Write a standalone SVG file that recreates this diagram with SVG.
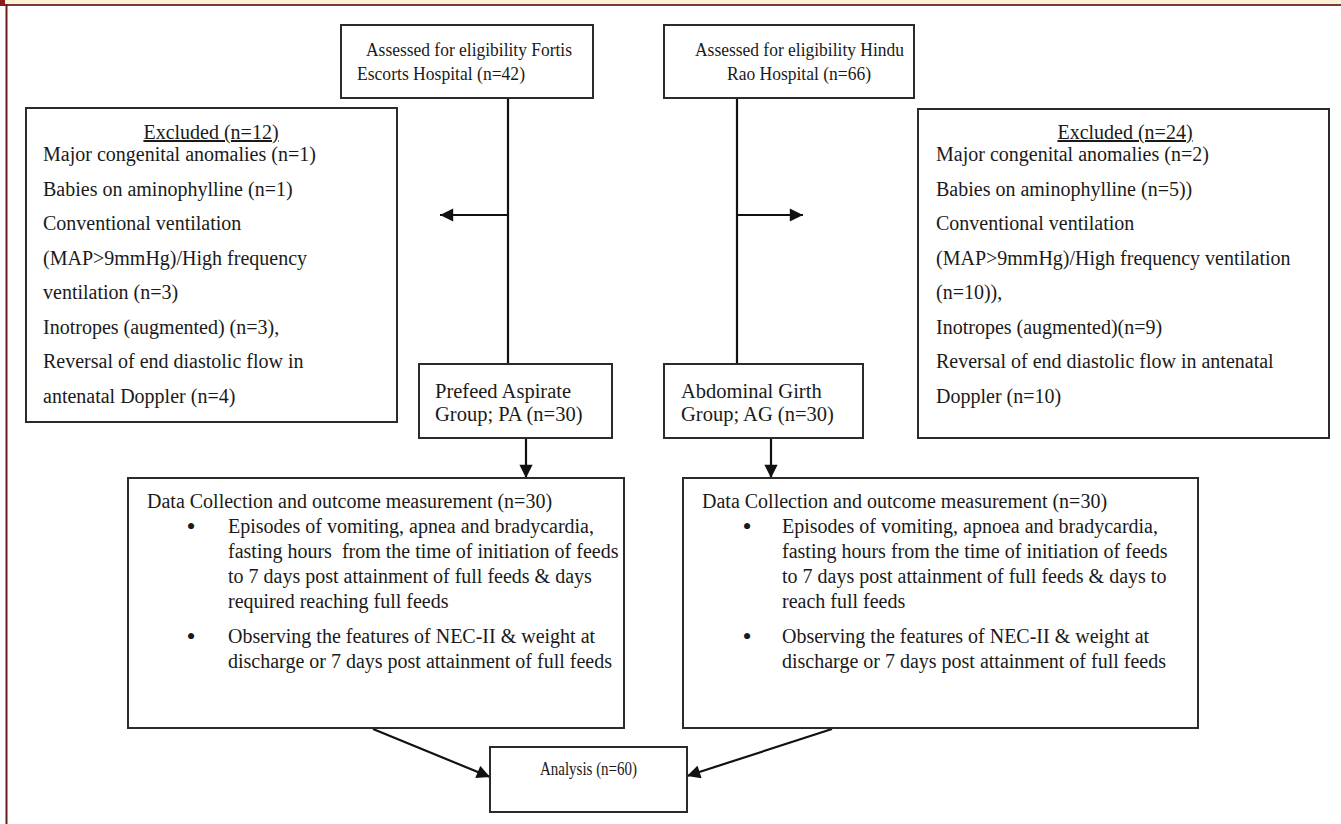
<svg xmlns="http://www.w3.org/2000/svg" width="1341" height="824" viewBox="0 0 1341 824">
<defs>
<style>
.box{fill:#fff;stroke:#2b2b2b;stroke-width:2}
.t{font-family:"Liberation Serif","Times New Roman",serif;fill:#1a1a1a;white-space:pre}
.s19{font-size:19.5px}
.s20{font-size:20px}
.s21{font-size:20.5px}
.b{font-size:26px}
.ln{stroke:#111;stroke-width:2.2;fill:none}
</style>
<marker id="ah" viewBox="0 0 10 10" refX="10" refY="5" markerWidth="6.5" markerHeight="6" markerUnits="strokeWidth" orient="auto">
<path d="M0,0 L10,5 L0,10 z" fill="#111"/>
</marker>
</defs>
<rect x="0" y="0" width="1341" height="824" fill="#fff"/>
<rect x="0" y="0" width="1341" height="4" fill="#fbf1d4"/>
<rect x="0" y="4" width="1341" height="2" fill="#7d3a3a"/>
<rect x="5.5" y="4" width="2" height="820" fill="#6a1c1c"/>
<rect x="0" y="0" width="5" height="6" fill="#8a1e1e"/>

<g id="connectors">
<line class="ln" x1="508" y1="98" x2="508" y2="364"/>
<line class="ln" x1="508" y1="215" x2="440" y2="215" marker-end="url(#ah)"/>
<line class="ln" x1="737" y1="98" x2="737" y2="364"/>
<line class="ln" x1="737" y1="215" x2="803" y2="215" marker-end="url(#ah)"/>
<line class="ln" x1="526" y1="438" x2="526" y2="478" marker-end="url(#ah)"/>
<line class="ln" x1="771" y1="438" x2="771" y2="478" marker-end="url(#ah)"/>
<line class="ln" x1="373" y1="729" x2="490" y2="777" marker-end="url(#ah)"/>
<line class="ln" x1="832" y1="729" x2="687" y2="776" marker-end="url(#ah)"/>
</g>

<g id="fortis">
<rect class="box" x="341" y="25" width="252" height="73"/>
<text class="t s19" x="366" y="56" textLength="206" lengthAdjust="spacingAndGlyphs">Assessed for eligibility Fortis</text>
<text class="t s19" x="357" y="80" textLength="168" lengthAdjust="spacingAndGlyphs">Escorts Hospital (n=42)</text>
</g>

<g id="hindu">
<rect class="box" x="664" y="25" width="250" height="73"/>
<text class="t s19" x="695" y="56" textLength="209" lengthAdjust="spacingAndGlyphs">Assessed for eligibility Hindu</text>
<text class="t s19" x="727" y="80" textLength="144" lengthAdjust="spacingAndGlyphs">Rao Hospital (n=66)</text>
</g>

<g id="excluded-left">
<rect class="box" x="26" y="108" width="371" height="314"/>
<text class="t s20" x="211" y="139" text-anchor="middle" text-decoration="underline">Excluded (n=12)</text>
<text class="t s20" x="43" y="161">Major congenital anomalies (n=1)</text>
<text class="t s20" x="43" y="195.5">Babies on aminophylline (n=1)</text>
<text class="t s20" x="43" y="230">Conventional ventilation</text>
<text class="t s20" x="43" y="264.5">(MAP&gt;9mmHg)/High frequency</text>
<text class="t s20" x="43" y="299">ventilation (n=3)</text>
<text class="t s20" x="43" y="333.5">Inotropes (augmented) (n=3),</text>
<text class="t s20" x="43" y="368">Reversal of end diastolic flow in</text>
<text class="t s20" x="43" y="402.5">antenatal Doppler (n=4)</text>
</g>

<g id="excluded-right">
<rect class="box" x="918" y="109" width="411" height="329"/>
<text class="t s20" x="1125" y="139" text-anchor="middle" text-decoration="underline">Excluded (n=24)</text>
<text class="t s20" x="936" y="161">Major congenital anomalies (n=2)</text>
<text class="t s20" x="936" y="195.5">Babies on aminophylline (n=5))</text>
<text class="t s20" x="936" y="230">Conventional ventilation</text>
<text class="t s20" x="936" y="264.5">(MAP&gt;9mmHg)/High frequency ventilation</text>
<text class="t s20" x="936" y="299">(n=10)),</text>
<text class="t s20" x="936" y="333.5">Inotropes (augmented)(n=9)</text>
<text class="t s20" x="936" y="368">Reversal of end diastolic flow in antenatal</text>
<text class="t s20" x="936" y="402.5">Doppler (n=10)</text>
</g>

<g id="prefeed">
<rect class="box" x="419" y="364" width="193" height="74"/>
<text class="t s21" x="435" y="398">Prefeed Aspirate</text>
<text class="t s21" x="435" y="421">Group; PA (n=30)</text>
</g>

<g id="abdominal">
<rect class="box" x="664" y="364" width="199" height="74"/>
<text class="t s21" x="681" y="398">Abdominal Girth</text>
<text class="t s21" x="681" y="421">Group; AG (n=30)</text>
</g>

<g id="data-left">
<rect class="box" x="128" y="478" width="496" height="250"/>
<text class="t s20" x="147" y="508">Data Collection and outcome measurement (n=30)</text>
<text class="t b" x="191" y="535" text-anchor="middle">•</text>
<text class="t s20" x="228" y="533">Episodes of vomiting, apnea and bradycardia,</text>
<text class="t s20" x="228" y="558">fasting hours  from the time of initiation of feeds</text>
<text class="t s20" x="228" y="583">to 7 days post attainment of full feeds &amp; days</text>
<text class="t s20" x="228" y="608">required reaching full feeds</text>
<text class="t b" x="191" y="645" text-anchor="middle">•</text>
<text class="t s20" x="228" y="643">Observing the features of NEC-II &amp; weight at</text>
<text class="t s20" x="228" y="668">discharge or 7 days post attainment of full feeds</text>
</g>

<g id="data-right">
<rect class="box" x="683" y="478" width="515" height="250"/>
<text class="t s20" x="702" y="508">Data Collection and outcome measurement (n=30)</text>
<text class="t b" x="747" y="535" text-anchor="middle">•</text>
<text class="t s20" x="782" y="533">Episodes of vomiting, apnoea and bradycardia,</text>
<text class="t s20" x="782" y="558">fasting hours from the time of initiation of feeds</text>
<text class="t s20" x="782" y="583">to 7 days post attainment of full feeds &amp; days to</text>
<text class="t s20" x="782" y="608">reach full feeds</text>
<text class="t b" x="747" y="645" text-anchor="middle">•</text>
<text class="t s20" x="782" y="643">Observing the features of NEC-II &amp; weight at</text>
<text class="t s20" x="782" y="668">discharge or 7 days post attainment of full feeds</text>
</g>

<g id="analysis">
<rect class="box" x="490" y="747" width="197" height="65"/>
<text class="t s19" x="540" y="775" textLength="97" lengthAdjust="spacingAndGlyphs">Analysis (n=60)</text>
</g>
</svg>
